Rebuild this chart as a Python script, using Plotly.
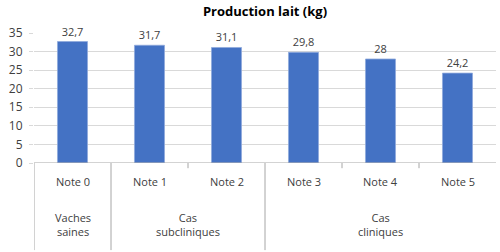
import plotly.graph_objects as go

notes = ["Note 0", "Note 1", "Note 2", "Note 3", "Note 4", "Note 5"]
values = [32.7, 31.7, 31.1, 29.8, 28, 24.2]
groups = ["Vaches<br>saines", "Cas<br>subcliniques", "Cas<br>cliniques"]
group_centers = [0, 1.5, 4]
group_bounds = [-0.5, 0.5, 2.5]
minor_bounds = [1.5, 3.5, 4.5]
yticks = [0, 5, 10, 15, 20, 25, 30, 35]

xs = list(range(len(notes)))
labels = [("%g" % v).replace(".", ",") for v in values]

font = "Open Sans, Noto Sans, sans-serif"
txtcol = "#404040"

fig = go.Figure(go.Bar(
    x=xs, y=values, width=0.39,
    marker=dict(color="#4472c4", line=dict(color="#8faadc", width=0.8)),
    text=labels, textposition="outside", cliponaxis=False,
    textfont=dict(family=font, size=11, color=txtcol),
))

fig.update_layout(
    width=500, height=252,
    margin=dict(l=34, r=4, t=33, b=89),
    paper_bgcolor="white", plot_bgcolor="white",
    showlegend=False,
    title=dict(text="<b>Production lait (kg)</b>", x=0.53, xanchor="center",
               y=0.955, yanchor="middle",
               font=dict(family=font, size=13, color="#000000")),
    xaxis=dict(range=[-0.5, 5.5], showticklabels=False, showgrid=False,
               zeroline=False, showline=False, ticks=""),
    yaxis=dict(range=[0, 35], tickvals=yticks, showgrid=True,
               gridcolor="#d9d9d9", gridwidth=1, zeroline=False,
               ticks="outside", ticklen=4, tickcolor="#d9d9d9",
               ticklabelstandoff=4,
               showline=False,
               tickfont=dict(family=font, size=12, color=txtcol)),
)

# baseline axis
fig.add_shape(type="line", xref="paper", yref="y", x0=0, x1=1, y0=0, y1=0,
              line=dict(color="#a6a6a6", width=1))
for b in group_bounds:
    fig.add_shape(type="line", xref="x", yref="paper", x0=b, x1=b, y0=0, y1=-0.67,
                  line=dict(color="#a6a6a6", width=1))
for b in minor_bounds:
    fig.add_shape(type="line", xref="x", yref="paper", x0=b, x1=b, y0=0, y1=-0.04,
                  line=dict(color="#a6a6a6", width=1))

for x, n in zip(xs, notes):
    fig.add_annotation(x=x, y=-0.146, xref="x", yref="paper", text=n, showarrow=False,
                       yanchor="middle", font=dict(family=font, size=11, color=txtcol))
for x, g in zip(group_centers, groups):
    fig.add_annotation(x=x, y=-0.47, xref="x", yref="paper", text=g, showarrow=False,
                       yanchor="middle", align="center",
                       font=dict(family=font, size=11, color=txtcol))

fig.write_html("out.html")
